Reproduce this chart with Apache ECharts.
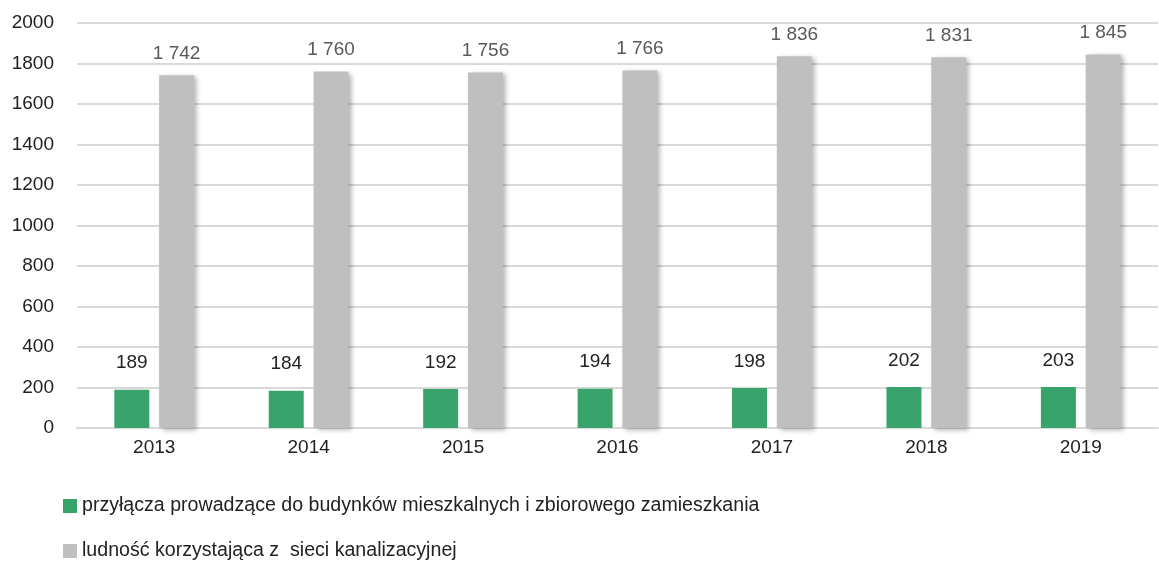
<!DOCTYPE html>
<html>
<head>
<meta charset="utf-8">
<script src="https://cdn.jsdelivr.net/npm/echarts@6/dist/echarts.min.js"></script>
<style>
  html, body { margin: 0; padding: 0; background: #fff; }
  #chart { width: 1159px; height: 570px; }
</style>
</head>
<body>
<div id="chart"></div>
<script>
const years = ['2013', '2014', '2015', '2016', '2017', '2018', '2019']
const przylacza = [189, 184, 192, 194, 198, 202, 203]
const ludnosc = [1742, 1760, 1756, 1766, 1836, 1831, 1845]
const seriesNames = [
  'przyłącza prowadzące do budynków mieszkalnych i zbiorowego zamieszkania',
  'ludność korzystająca z  sieci kanalizacyjnej'
]

// 1742 -> "1 742"
const spaced = v => String(v).replace(/\B(?=(\d{3})+(?!\d))/g, ' ')

const chart = echarts.init(document.getElementById('chart'))
const font = '"Liberation Sans", Arial, sans-serif'

const legendBase = {
  orient: 'horizontal',
  left: 63,
  padding: 0,
  itemWidth: 14,
  itemHeight: 14,
  itemGap: 5,
  icon: 'rect',
  textStyle: { fontSize: 19.6, color: '#222', fontFamily: font }
}

chart.setOption({
  animation: false,
  textStyle: { fontFamily: font },
  grid: { left: 77, right: 1, top: 23, bottom: 142 },
  legend: [
    Object.assign({}, legendBase, { top: 496, data: [seriesNames[0]] }),
    Object.assign({}, legendBase, { top: 541, data: [seriesNames[1]] })
  ],
  xAxis: {
    type: 'category',
    data: years,
    axisTick: { show: false },
    axisLine: { lineStyle: { color: '#d9d9d9', width: 2 } },
    axisLabel: { fontSize: 19, color: '#222', margin: 10 }
  },
  yAxis: {
    type: 'value',
    min: 0,
    max: 2000,
    interval: 200,
    axisLabel: { fontSize: 19, color: '#222', margin: 23, formatter: v => String(v) },
    splitLine: { lineStyle: { color: '#d9d9d9', width: 2 } }
  },
  series: [
    {
      name: seriesNames[0],
      type: 'bar',
      data: przylacza,
      barWidth: 35,
      barGap: '28%',
      itemStyle: { color: '#38a36b' },
      label: {
        show: true,
        position: 'top',
        distance: 17,
        fontSize: 19,
        color: '#222'
      }
    },
    {
      name: seriesNames[1],
      type: 'bar',
      data: ludnosc,
      barWidth: 35,
      itemStyle: {
        color: '#bfbfbf',
        shadowBlur: 5,
        shadowOffsetX: 3,
        shadowOffsetY: 2,
        shadowColor: 'rgba(0,0,0,0.3)'
      },
      label: {
        show: true,
        position: 'top',
        distance: 12,
        fontSize: 19,
        color: '#595959',
        formatter: p => spaced(p.value)
      }
    }
  ]
})
</script>
</body>
</html>
